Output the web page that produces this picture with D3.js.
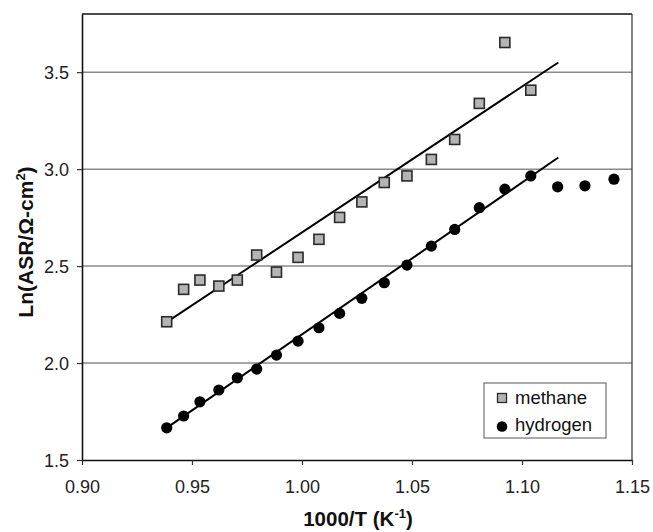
<!DOCTYPE html>
<html>
<head>
<meta charset="utf-8">
<script src="https://cdn.jsdelivr.net/npm/d3@7"></script>
<style>
  html, body { margin: 0; padding: 0; background: #fff; }
  svg { display: block; font-family: Arial, "Liberation Sans", Helvetica, sans-serif; }
</style>
</head>
<body>
<svg id="chart" width="653" height="532"></svg>
<script>
// Inverse temperature (1000/T, K^-1) for each measurement
const methaneX = [0.9385, 0.9462, 0.9536, 0.9622, 0.9706, 0.9794, 0.9884, 0.9982, 1.0077,
                  1.0171, 1.0272, 1.0374, 1.0477, 1.0588, 1.0694, 1.0806, 1.0922, 1.1040];
const methaneY = [2.213, 2.380, 2.428, 2.397, 2.428, 2.557, 2.469, 2.545, 2.638,
                  2.751, 2.831, 2.931, 2.965, 3.050, 3.153, 3.339, 3.653, 3.407];
const hydrogenX = [0.9385, 0.9462, 0.9536, 0.9622, 0.9706, 0.9794, 0.9884, 0.9982, 1.0077,
                   1.0171, 1.0272, 1.0374, 1.0477, 1.0588, 1.0694, 1.0806, 1.0922, 1.1040,
                   1.1162, 1.1286, 1.1418];
const hydrogenY = [1.666, 1.727, 1.800, 1.861, 1.924, 1.969, 2.041, 2.113, 2.182,
                   2.256, 2.334, 2.414, 2.505, 2.603, 2.689, 2.801, 2.897, 2.965,
                   2.909, 2.914, 2.948];

// Linear Arrhenius fit segments (endpoints)
const methaneFitX = [0.9385, 1.1165];
const methaneFitY = [2.211, 3.550];
const hydrogenFitX = [0.9385, 1.1165];
const hydrogenFitY = [1.666, 3.060];

const xTicks = [0.90, 0.95, 1.00, 1.05, 1.10, 1.15];
const yTicks = [1.5, 2.0, 2.5, 3.0, 3.5];
const seriesNames = ["methane", "hydrogen"];

const svg = d3.select("#chart");
const plotLeft = 82, plotRight = 632, plotTop = 14, plotBottom = 460;

const x = d3.scaleLinear().domain([0.90, 1.15]).range([plotLeft, plotRight]);
const y = d3.scaleLinear().domain([1.5, 3.8]).range([plotBottom, plotTop]);

svg.append("rect").attr("width", 653).attr("height", 532).attr("fill", "#fff");

// Horizontal gridlines
svg.append("g").selectAll("line")
  .data(yTicks.filter(v => v > 1.5))
  .join("line")
  .attr("x1", plotLeft).attr("x2", plotRight)
  .attr("y1", d => y(d)).attr("y2", d => y(d))
  .attr("stroke", "#8a8a8a").attr("stroke-width", 1.5);

// Plot frame (top and right)
svg.append("line").attr("x1", plotLeft).attr("x2", plotRight).attr("y1", plotTop).attr("y2", plotTop)
  .attr("stroke", "#111").attr("stroke-width", 1.6);
svg.append("line").attr("x1", plotRight).attr("x2", plotRight).attr("y1", plotTop).attr("y2", plotBottom)
  .attr("stroke", "#333").attr("stroke-width", 1.2);

// Axes
const xAxis = d3.axisBottom(x).tickValues(xTicks).tickFormat(d3.format(".2f"))
  .tickSizeInner(5).tickSizeOuter(0).tickPadding(8);
const yAxis = d3.axisLeft(y).tickValues(yTicks).tickFormat(d3.format(".1f"))
  .tickSizeInner(5).tickSizeOuter(0).tickPadding(8);

const gx = svg.append("g").attr("transform", `translate(0,${plotBottom})`).call(xAxis);
const gy = svg.append("g").attr("transform", `translate(${plotLeft},0)`).call(yAxis);
[gx, gy].forEach(g => {
  g.select(".domain").attr("stroke", "#111").attr("stroke-width", 1.6);
  g.selectAll(".tick line").attr("stroke", "#333").attr("stroke-width", 1.2);
  g.selectAll(".tick text").attr("fill", "#222").style("font-size", "18px")
    .style("font-family", "Arial, 'Liberation Sans', sans-serif");
});
gx.selectAll(".tick text").attr("dy", "1.1em");
gy.selectAll(".tick text").attr("dy", "0.35em");

// Axis titles
svg.append("text")
  .attr("x", 358).attr("y", 526)
  .attr("text-anchor", "middle")
  .style("font-size", "20.5px").style("font-weight", "bold").attr("fill", "#111")
  .call(t => {
    t.append("tspan").text("1000/T (K");
    t.append("tspan").attr("dy", -8).style("font-size", "13px").text("-1");
    t.append("tspan").attr("dy", 8).text(")");
  });

svg.append("text")
  .attr("transform", "translate(33,242) rotate(-90)")
  .attr("text-anchor", "middle")
  .style("font-size", "21px").style("font-weight", "bold").attr("fill", "#111")
  .call(t => {
    t.append("tspan").text("Ln(ASR/\u03A9-cm");
    t.append("tspan").attr("dy", -8).style("font-size", "13px").text("2");
    t.append("tspan").attr("dy", 8).text(")");
  });

// Fit lines
const line = d3.line().x(d => x(d[0])).y(d => y(d[1]));
svg.append("path").datum(d3.zip(methaneFitX, methaneFitY)).attr("d", line)
  .attr("fill", "none").attr("stroke", "#000").attr("stroke-width", 2);
svg.append("path").datum(d3.zip(hydrogenFitX, hydrogenFitY)).attr("d", line)
  .attr("fill", "none").attr("stroke", "#000").attr("stroke-width", 2);

// Methane squares
const sq = 10;
svg.append("g").selectAll("rect")
  .data(d3.zip(methaneX, methaneY))
  .join("rect")
  .attr("x", d => x(d[0]) - sq / 2).attr("y", d => y(d[1]) - sq / 2)
  .attr("width", sq).attr("height", sq)
  .attr("fill", "#b4b4b4").attr("stroke", "#2a2a2a").attr("stroke-width", 1.6);

// Hydrogen circles
svg.append("g").selectAll("circle")
  .data(d3.zip(hydrogenX, hydrogenY))
  .join("circle")
  .attr("cx", d => x(d[0])).attr("cy", d => y(d[1])).attr("r", 5.6)
  .attr("fill", "#000");

// Legend
const lg = svg.append("g").attr("transform", "translate(484,383)");
lg.append("rect").attr("width", 122).attr("height", 55)
  .attr("fill", "#fff").attr("stroke", "#555").attr("stroke-width", 1);
lg.append("rect").attr("x", 13.5).attr("y", 10.5).attr("width", 9).attr("height", 9)
  .attr("fill", "#b4b4b4").attr("stroke", "#2a2a2a").attr("stroke-width", 1.3);
lg.append("circle").attr("cx", 18).attr("cy", 43.5).attr("r", 5.3).attr("fill", "#000");
lg.selectAll("text.lab").data(seriesNames).join("text")
  .attr("class", "lab")
  .attr("x", 31).attr("y", (d, i) => 21 + i * 27)
  .style("font-size", "18.5px").attr("fill", "#111")
  .text(d => d);
</script>
</body>
</html>
